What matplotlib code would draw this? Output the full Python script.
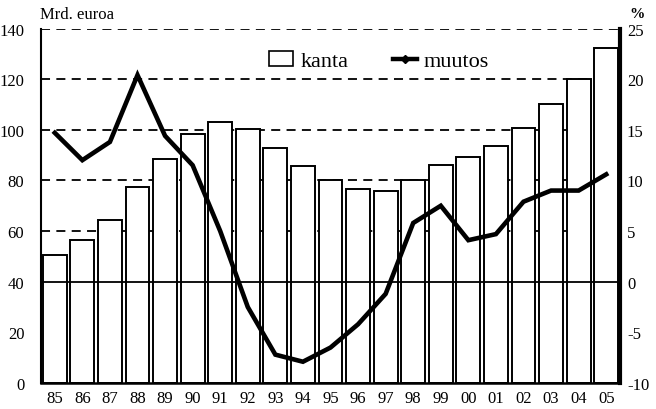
import matplotlib
matplotlib.use("Agg")
import matplotlib.pyplot as plt
from matplotlib.lines import Line2D
from matplotlib.patches import Patch
import numpy as np

years = ["85", "86", "87", "88", "89", "90", "91", "92", "93", "94", "95",
         "96", "97", "98", "99", "00", "01", "02", "03", "04", "05"]
kanta = [50.5, 56.5, 64.5, 77.3, 88.5, 98.5, 103, 100.3, 93, 85.6, 80,
         76.7, 75.9, 80, 85.9, 89.4, 93.7, 100.8, 110, 120, 132.3]
muutos = [14.7, 12.0, 13.8, 20.4, 14.4, 11.5, 5.0, -2.5, -7.2, -7.9, -6.5,
          -4.2, -1.2, 5.8, 7.5, 4.1, 4.7, 7.9, 9.0, 9.0, 10.6]
left_ticks = [0, 20, 40, 60, 80, 100, 120, 140]
right_ticks = [-10, -5, 0, 5, 10, 15, 20, 25]

plt.rcParams['font.family'] = ['Liberation Serif', 'DejaVu Serif']
plt.rcParams['axes.unicode_minus'] = False

fig = plt.figure(figsize=(6.56, 4.10), dpi=100)
ax = fig.add_axes([41/656, 1 - 384/410, (620 - 41)/656, (384 - 29.5)/410])
ax2 = ax.twinx()

x = np.arange(len(years))
ax.bar(x, kanta, width=0.87, facecolor='white', edgecolor='black',
       linewidth=1.4, zorder=2)
for v in [60, 80, 100, 120, 140]:
    ax.axhline(v, color='black', lw=1.3, ls=(0, (5, 3.5)), zorder=1)

ax.set_xlim(-0.5, len(years) - 0.5)
ax.set_ylim(0, 140)
ax.set_yticks(left_ticks)
ax.set_xticks(x)
ax.set_xticklabels(years)

ax2.set_ylim(-10, 25)
ax2.set_yticks(right_ticks)
ax2.axhline(0, color='black', lw=1.3, zorder=1)
ax2.plot(x, muutos, color='black', lw=3.3, zorder=3, solid_joinstyle='miter')

for a in (ax, ax2):
    a.spines['top'].set_visible(False)
ax.spines['left'].set_linewidth(1.5)
ax.spines['bottom'].set_linewidth(1.8)
ax.spines['right'].set_visible(False)
ax2.spines['left'].set_visible(False)
ax2.spines['bottom'].set_visible(False)
ax2.spines['right'].set_linewidth(3)

ax.tick_params(axis='y', length=0, pad=12, labelsize=12)
ax.tick_params(axis='x', length=0, pad=5, labelsize=12)
ax2.tick_params(axis='y', length=0, pad=5, labelsize=12)

fig.text(40/656, 1 - 15/410, "Mrd. euroa", fontsize=12, ha='left', va='center')
fig.text(637/656, 1 - 15/410, "%", fontsize=11, ha='center', va='center',
         fontweight='bold')

handles = [Patch(facecolor='white', edgecolor='black', linewidth=1.2),
           Line2D([0], [0], color='black', lw=3.2, marker='D', markersize=4)]
fig.legend(handles, ["kanta", "muutos"], loc='center',
           bbox_to_anchor=(379/656, 1 - 62/410), ncol=2, frameon=False,
           fontsize=16, handlelength=1.1, handletextpad=0.3, columnspacing=2.0,
           handleheight=0.7)

fig.savefig("out.png", dpi=100)
